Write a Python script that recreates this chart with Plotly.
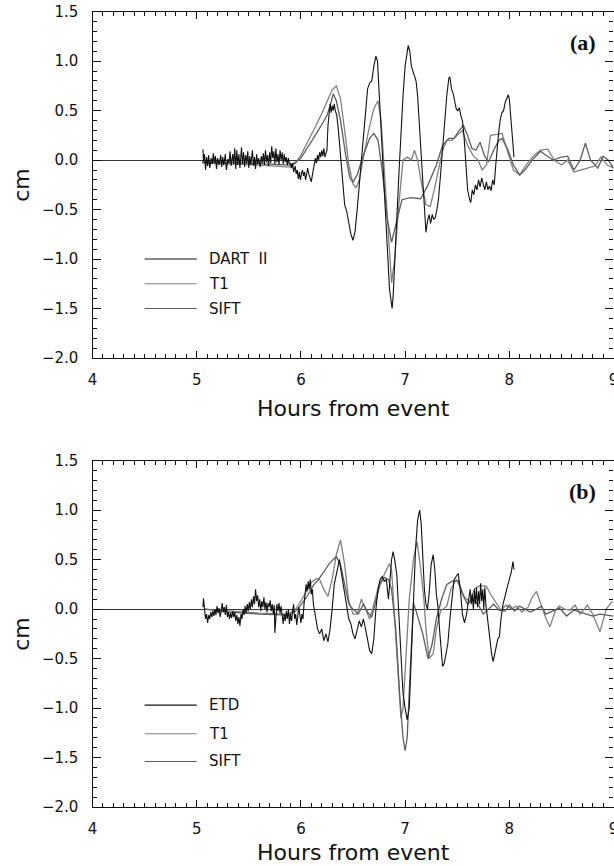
import plotly.graph_objects as go

# ---------------- Panel (a) ----------------
a_obs_h = [5.06, 5.065, 5.075, 5.085, 5.095, 5.105, 5.115, 5.125, 5.14, 5.15, 5.16, 5.17, 5.18, 5.19, 5.2, 5.215, 5.23, 5.24, 5.25, 5.26,
           5.275, 5.285, 5.3, 5.31, 5.32, 5.33, 5.345, 5.355, 5.365, 5.375, 5.385, 5.395, 5.405, 5.415, 5.43, 5.44, 5.45, 5.46, 5.47, 5.48,
           5.49, 5.5, 5.51, 5.52, 5.535, 5.545, 5.555, 5.565, 5.575, 5.585, 5.595, 5.61, 5.62, 5.63, 5.64, 5.65, 5.66, 5.67, 5.68, 5.69,
           5.7, 5.71, 5.72, 5.73, 5.74, 5.75, 5.76, 5.77, 5.78, 5.79, 5.8, 5.81, 5.82, 5.83, 5.84, 5.85, 5.86, 5.87, 5.88, 5.89,
           5.9, 5.91, 5.92, 5.93, 5.945, 5.955, 5.965, 5.975, 5.985, 5.995, 6.005, 6.015, 6.025, 6.035, 6.045, 6.055, 6.065, 6.075, 6.09, 6.1,
           6.11, 6.125, 6.14, 6.15, 6.16, 6.17, 6.18, 6.19, 6.2, 6.21, 6.22, 6.23, 6.24, 6.25, 6.26, 6.27, 6.28, 6.29, 6.3, 6.31,
           6.32, 6.33, 6.345, 6.36, 6.38, 6.4, 6.42, 6.44, 6.46, 6.48, 6.5, 6.52, 6.54, 6.56, 6.58, 6.6, 6.62, 6.64, 6.66, 6.68,
           6.7, 6.72, 6.735, 6.75, 6.77, 6.79, 6.81, 6.83, 6.85, 6.865, 6.875, 6.885, 6.9, 6.92, 6.94, 6.96, 6.98, 7.0, 7.02, 7.03,
           7.045, 7.06, 7.075, 7.09, 7.105, 7.12, 7.14, 7.16, 7.18, 7.2, 7.215, 7.23, 7.245, 7.26, 7.275, 7.29, 7.305, 7.32, 7.34, 7.36,
           7.38, 7.4, 7.42, 7.43, 7.445, 7.46, 7.475, 7.49, 7.505, 7.52, 7.535, 7.55, 7.565, 7.58, 7.6, 7.615, 7.63, 7.645, 7.66, 7.675,
           7.69, 7.705, 7.72, 7.735, 7.75, 7.765, 7.78, 7.795, 7.81, 7.825, 7.84, 7.855, 7.87, 7.885, 7.9, 7.915, 7.93, 7.945, 7.96, 7.975,
           7.99, 8.0, 8.015, 8.03, 8.045]
a_obs_v = [0.11, -0.02, 0.06, -0.10, 0.03, -0.06, 0.05, -0.08, 0.02, -0.04, 0.07, -0.03, 0.04, -0.09, 0.02, -0.05, 0.05, -0.07, 0.03, -0.05,
           0.06, -0.10, 0.01, -0.03, 0.09, -0.06, 0.06, -0.04, 0.12, -0.09, 0.10, -0.05, 0.06, -0.08, 0.13, -0.04, 0.08, -0.07, 0.05, -0.03,
           0.09, -0.08, 0.04, -0.05, 0.10, -0.06, 0.03, -0.09, 0.06, -0.04, 0.02, -0.07, 0.04, -0.03, 0.07, -0.05, 0.10, -0.02, 0.05, -0.06,
           0.08, -0.03, 0.14, 0.02, 0.09, -0.04, 0.12, -0.02, 0.06, -0.05, 0.10, 0.00, 0.08, -0.04, 0.06, -0.02, 0.03, -0.05, 0.02, -0.04,
           -0.03, -0.08, -0.03, -0.12, -0.06, -0.14, -0.10, -0.19, -0.12, -0.20, -0.14, -0.10, -0.16, -0.12, -0.20, -0.15, -0.08, -0.14, -0.20, -0.22,
           -0.15, -0.05, 0.02, -0.03, 0.05, 0.00, 0.08, 0.03, 0.10, 0.04, 0.12, 0.03, 0.06, 0.10, 0.35, 0.50, 0.57, 0.48, 0.55, 0.50,
           0.57, 0.50, 0.45, 0.30, 0.05, -0.25, -0.45, -0.52, -0.65, -0.75, -0.81, -0.72, -0.50, -0.25, 0.05, 0.30, 0.55, 0.72, 0.78, 0.80,
           0.95, 1.05, 1.00, 0.70, 0.30, -0.10, -0.50, -0.95, -1.30, -1.42, -1.50, -1.38, -1.10, -0.60, -0.15, 0.30, 0.65, 0.95, 1.12, 1.16,
           1.10, 0.95, 0.90, 0.85, 0.80, 0.65, 0.30, -0.10, -0.50, -0.73, -0.62, -0.55, -0.64, -0.55, -0.60, -0.58, -0.50, -0.40, -0.15, 0.15,
           0.40, 0.65, 0.83, 0.84, 0.72, 0.68, 0.60, 0.52, 0.50, 0.53, 0.45, 0.40, 0.25, 0.00, -0.30, -0.38, -0.43, -0.30, -0.35, -0.25,
           -0.30, -0.20, -0.27, -0.18, -0.25, -0.30, -0.22, -0.30, -0.26, -0.31, -0.20, -0.25, -0.05, 0.15, 0.30, 0.42, 0.48, 0.50, 0.58, 0.62,
           0.66, 0.62, 0.45, 0.20, 0.03]

a_t1_h = [5.05, 5.3, 5.6, 5.9, 5.95, 6.0, 6.05, 6.1, 6.15, 6.2, 6.25, 6.3, 6.34, 6.38, 6.42, 6.46, 6.5, 6.53, 6.56, 6.6,
          6.65, 6.7, 6.74, 6.77, 6.8, 6.84, 6.87, 6.9, 6.94, 6.98, 7.02, 7.06, 7.09, 7.12, 7.16, 7.2, 7.24, 7.28, 7.32, 7.36,
          7.4, 7.45, 7.5, 7.55, 7.6, 7.65, 7.7, 7.74, 7.78, 7.82, 7.88, 7.93, 7.98, 8.04, 8.1, 8.16, 8.24, 8.3, 8.37, 8.43,
          8.5, 8.56, 8.62, 8.7, 8.75, 8.82, 8.88, 8.94, 9.0]
a_t1_v = [-0.03, -0.04, -0.05, -0.07, -0.03, 0.05, 0.15, 0.26, 0.36, 0.47, 0.60, 0.71, 0.75, 0.62, 0.30, -0.05, -0.24, -0.28, -0.20, 0.02,
          0.30, 0.52, 0.60, 0.40, -0.10, -0.85, -1.24, -1.00, -0.45, 0.00, 0.03, 0.00, 0.10, 0.00, -0.25, -0.45, -0.47, -0.30, -0.10, 0.10,
          0.20, 0.20, 0.25, 0.30, 0.15, 0.05, 0.00, -0.10, -0.05, 0.25, 0.26, 0.27, 0.10, -0.10, -0.15, -0.05, 0.05, 0.10, 0.11, 0.00,
          -0.05, 0.00, -0.12, -0.10, -0.08, -0.06, 0.03, -0.05, -0.08]

a_sift_h = [5.05, 5.5, 5.9, 5.95, 6.0, 6.05, 6.1, 6.15, 6.2, 6.25, 6.28, 6.31, 6.34, 6.38, 6.43, 6.47, 6.5, 6.54, 6.6, 6.66,
            6.7, 6.74, 6.78, 6.83, 6.87, 6.92, 6.97, 7.05, 7.15, 7.22, 7.3, 7.36, 7.42, 7.47, 7.52, 7.56, 7.6, 7.64, 7.68, 7.72,
            7.76, 7.8, 7.85, 7.9, 7.93, 7.98, 8.04, 8.1, 8.15, 8.22, 8.3, 8.35, 8.42, 8.5, 8.56, 8.62, 8.68, 8.73, 8.78, 8.85,
            8.9, 8.95, 9.0]
a_sift_v = [-0.02, -0.03, -0.05, -0.02, 0.02, 0.10, 0.18, 0.27, 0.36, 0.45, 0.55, 0.67, 0.60, 0.40, 0.05, -0.18, -0.22, -0.15, 0.05, 0.22,
            0.27, 0.20, -0.10, -0.60, -0.83, -0.60, -0.40, -0.38, -0.39, -0.25, -0.05, 0.15, 0.22, 0.22, 0.30, 0.35, 0.25, 0.12, 0.10, 0.18,
            0.05, -0.02, 0.10, 0.20, 0.22, 0.12, -0.05, -0.15, -0.10, 0.00, 0.09, 0.05, 0.00, 0.03, 0.04, -0.10, 0.00, 0.17, 0.00, -0.08,
            0.04, 0.00, -0.08]

# ---------------- Panel (b) ----------------
b_obs_h = [5.06, 5.065, 5.075, 5.085, 5.095, 5.105, 5.115, 5.125, 5.135, 5.145, 5.155, 5.165, 5.175, 5.185, 5.195, 5.205, 5.215, 5.225, 5.235, 5.245,
           5.255, 5.265, 5.275, 5.285, 5.295, 5.305, 5.315, 5.325, 5.335, 5.345, 5.355, 5.365, 5.375, 5.385, 5.395, 5.405, 5.415, 5.425, 5.435, 5.445,
           5.455, 5.465, 5.475, 5.485, 5.495, 5.505, 5.515, 5.525, 5.535, 5.545, 5.555, 5.565, 5.575, 5.585, 5.595, 5.605, 5.615, 5.625, 5.635, 5.645,
           5.655, 5.665, 5.675, 5.685, 5.695, 5.705, 5.715, 5.725, 5.735, 5.745, 5.75, 5.76, 5.77, 5.78, 5.79, 5.8, 5.81, 5.82, 5.83, 5.84,
           5.85, 5.86, 5.87, 5.88, 5.89, 5.9, 5.91, 5.92, 5.93, 5.94, 5.95, 5.96, 5.97, 5.98, 5.99, 6.0, 6.01, 6.02, 6.03, 6.04,
           6.05, 6.06, 6.07, 6.08, 6.09, 6.1, 6.11, 6.12, 6.14, 6.16, 6.18, 6.2, 6.22, 6.24, 6.26, 6.28, 6.3, 6.32, 6.34, 6.36,
           6.37, 6.38, 6.4, 6.42, 6.44, 6.46, 6.48, 6.5, 6.52, 6.54, 6.56, 6.58, 6.6, 6.62, 6.64, 6.66, 6.68, 6.7, 6.72, 6.74,
           6.76, 6.78, 6.8, 6.82, 6.84, 6.86, 6.87, 6.885, 6.9, 6.92, 6.94, 6.96, 6.98, 7.0, 7.02, 7.04, 7.06, 7.08, 7.1, 7.12,
           7.14, 7.155, 7.17, 7.185, 7.2, 7.215, 7.23, 7.25, 7.27, 7.285, 7.3, 7.315, 7.33, 7.345, 7.36, 7.375, 7.39, 7.41, 7.43, 7.45,
           7.47, 7.49, 7.51, 7.53, 7.55, 7.57, 7.59, 7.61, 7.625, 7.635, 7.645, 7.655, 7.665, 7.675, 7.685, 7.695, 7.705, 7.715, 7.725, 7.735,
           7.745, 7.755, 7.765, 7.775, 7.79, 7.81, 7.83, 7.845, 7.86, 7.875, 7.89, 7.905, 7.92, 7.94, 7.96, 7.98, 8.0, 8.02, 8.035, 8.045]
b_obs_v = [0.02, 0.11, 0.00, -0.10, -0.05, -0.14, -0.06, -0.10, -0.03, -0.08, -0.02, -0.07, 0.00, -0.06, 0.03, -0.04, 0.01, -0.08, -0.02, 0.06,
           -0.03, 0.02, -0.06, 0.04, -0.08, -0.03, -0.10, -0.04, -0.09, -0.02, -0.08, -0.03, -0.12, -0.06, -0.15, -0.08, -0.17, -0.05, -0.10, 0.00,
           -0.06, 0.03, -0.04, 0.05, -0.02, 0.07, 0.00, 0.10, 0.02, 0.13, 0.05, 0.20, 0.08, 0.14, 0.02, 0.10, -0.02, 0.08, 0.02, 0.12,
           0.00, 0.07, -0.03, 0.06, 0.02, 0.09, -0.02, 0.05, -0.05, 0.04, -0.24, -0.05, 0.05, -0.02, 0.06, -0.04, 0.03, -0.06, -0.15, -0.05,
           -0.12, -0.02, -0.10, 0.00, -0.15, -0.05, -0.12, -0.03, 0.05, -0.10, -0.05, -0.16, -0.08, 0.02, -0.06, -0.14, -0.05, -0.10, 0.05, 0.15,
           0.25, 0.18, 0.28, 0.20, 0.30, 0.15, 0.20, 0.05, -0.10, -0.20, -0.25, -0.20, -0.32, -0.25, -0.33, -0.20, 0.00, 0.25, 0.35, 0.45,
           0.50, 0.42, 0.30, 0.15, 0.02, -0.10, -0.15, -0.25, -0.30, -0.20, -0.12, -0.18, -0.10, -0.20, -0.30, -0.42, -0.45, -0.30, 0.00, 0.20,
           0.30, 0.33, 0.28, 0.30, 0.10, 0.35, 0.50, 0.58, 0.50, 0.35, -0.10, -0.50, -0.85, -1.00, -1.12, -1.00, -0.50, 0.10, 0.60, 0.90,
           1.00, 0.85, 0.50, 0.20, 0.05, 0.00, 0.15, 0.45, 0.55, 0.40, 0.15, 0.03, -0.20, -0.38, -0.58, -0.55, -0.45, -0.35, -0.10, 0.10,
           0.30, 0.33, 0.36, 0.20, -0.05, -0.14, -0.05, 0.10, 0.20, 0.05, 0.15, 0.00, 0.20, 0.05, 0.22, 0.02, 0.18, 0.05, 0.26, 0.08,
           0.20, 0.00, 0.22, 0.05, -0.10, -0.30, -0.45, -0.53, -0.45, -0.40, -0.30, -0.28, -0.10, 0.05, 0.15, 0.22, 0.30, 0.38, 0.48, 0.40]

b_t1_h = [5.08, 5.3, 5.6, 5.88, 5.95, 6.0, 6.05, 6.1, 6.15, 6.18, 6.22, 6.26, 6.3, 6.34, 6.38, 6.42, 6.46, 6.5, 6.54, 6.58,
          6.62, 6.66, 6.7, 6.75, 6.8, 6.85, 6.87, 6.9, 6.93, 6.96, 6.98, 7.0, 7.04, 7.08, 7.115, 7.15, 7.18, 7.2, 7.23, 7.27,
          7.3, 7.34, 7.4, 7.44, 7.49, 7.53, 7.57, 7.62, 7.67, 7.72, 7.78, 7.82, 7.86, 7.92, 7.97, 8.02, 8.07, 8.12, 8.18, 8.22,
          8.26, 8.3, 8.35, 8.39, 8.44, 8.48, 8.53, 8.58, 8.63, 8.68, 8.75, 8.8, 8.87, 8.93, 8.99]
b_t1_v = [0.00, -0.02, -0.04, -0.05, 0.00, 0.08, 0.18, 0.27, 0.31, 0.30, 0.20, 0.13, 0.30, 0.55, 0.70, 0.45, 0.08, -0.05, -0.05, 0.10,
          0.00, -0.10, 0.05, 0.25, 0.35, 0.46, 0.40, -0.10, -0.70, -1.10, -1.00, -0.60, 0.10, 0.50, 0.68, 0.40, 0.10, -0.20, -0.50, -0.45,
          -0.20, -0.02, 0.03, 0.20, 0.30, 0.22, 0.12, 0.08, 0.21, 0.24, 0.23, 0.15, 0.09, -0.01, 0.04, 0.00, 0.03, -0.03, 0.02, 0.12,
          0.18, 0.05, -0.09, -0.18, -0.02, 0.03, 0.00, -0.01, 0.04, -0.05, 0.04, -0.05, -0.23, 0.00, 0.08]

b_sift_h = [5.08, 5.3, 5.6, 5.88, 5.95, 6.0, 6.06, 6.12, 6.17, 6.22, 6.28, 6.34, 6.38, 6.42, 6.46, 6.5, 6.55, 6.6, 6.64, 6.68,
            6.72, 6.76, 6.8, 6.84, 6.87, 6.91, 6.95, 6.98, 7.0, 7.02, 7.05, 7.08, 7.1, 7.13, 7.17, 7.22, 7.26, 7.3, 7.35, 7.4,
            7.45, 7.51, 7.55, 7.6, 7.65, 7.7, 7.75, 7.8, 7.85, 7.9, 7.96, 8.0, 8.05, 8.1, 8.15, 8.2, 8.26, 8.31, 8.35, 8.4,
            8.48, 8.55, 8.62, 8.68, 8.75, 8.8, 8.87, 8.93, 9.0]
b_sift_v = [0.00, -0.03, -0.05, -0.06, -0.02, 0.04, 0.13, 0.24, 0.30, 0.38, 0.47, 0.53, 0.45, 0.25, 0.05, 0.00, -0.05, 0.05, -0.03, -0.08,
            0.10, 0.25, 0.32, 0.30, 0.20, -0.20, -0.90, -1.30, -1.43, -1.30, -0.60, 0.06, 0.00, -0.10, -0.25, -0.50, -0.35, -0.10, 0.10, 0.25,
            0.28, 0.29, 0.15, 0.05, 0.10, 0.05, -0.05, 0.00, 0.05, -0.01, -0.02, 0.04, -0.02, 0.03, 0.00, -0.03, 0.00, 0.03, -0.05, -0.03,
            0.01, -0.07, -0.01, -0.03, -0.05, -0.07, -0.05, -0.06, -0.07]

x_ticks = [4, 5, 6, 7, 8, 9]
y_ticks = [-2.0, -1.5, -1.0, -0.5, 0.0, 0.5, 1.0, 1.5]
panel_tags = ["(a)", "(b)"]
legend_a = ["DART  II", "T1", "SIFT"]
legend_b = ["ETD", "T1", "SIFT"]
legend_a_y = [-1.0, -1.25, -1.5]
legend_b_y = [-0.97, -1.26, -1.54]

OBS_C = "#111111"
T1_C = "#808080"
SIFT_C = "#5e5e5e"

fig = go.Figure()
panels = [
    ("x", "y", a_obs_h, a_obs_v, a_t1_h, a_t1_v, a_sift_h, a_sift_v),
    ("x2", "y2", b_obs_h, b_obs_v, b_t1_h, b_t1_v, b_sift_h, b_sift_v),
]
for xa, ya, oh, ov, th, tv, sh, sv in panels:
    fig.add_trace(go.Scatter(x=th, y=tv, mode="lines", line=dict(color=T1_C, width=1.3),
                             xaxis=xa, yaxis=ya, showlegend=False, hoverinfo="skip"))
    fig.add_trace(go.Scatter(x=sh, y=sv, mode="lines", line=dict(color=SIFT_C, width=1.3),
                             xaxis=xa, yaxis=ya, showlegend=False, hoverinfo="skip"))
    fig.add_trace(go.Scatter(x=oh, y=ov, mode="lines", line=dict(color=OBS_C, width=1.1),
                             xaxis=xa, yaxis=ya, showlegend=False, hoverinfo="skip"))

W, H = 614, 866
x_dom = [92.5 / W, 613.5 / W]
y_dom_a = [1 - 358.0 / H, 1 - 11.7 / H]
y_dom_b = [1 - 807.0 / H, 1 - 460.7 / H]

tickfont = dict(family="DejaVu Sans", size=15, color="#111")
common_x = dict(range=[4, 9], tickvals=x_ticks, ticks="inside", ticklen=7, tickwidth=1, tickcolor="#111",
                minor=dict(dtick=0.1, ticks="inside", ticklen=4, tickcolor="#111", tickwidth=1, showgrid=False),
                showline=True, linecolor="#111", linewidth=1.2, mirror="allticks", showgrid=False, zeroline=False,
                tickfont=tickfont, ticklabelstandoff=8, ticklabeloverflow="allow", automargin=False, fixedrange=True)
common_y = dict(range=[-2, 1.5], tickvals=y_ticks, tickformat=".1f", ticks="inside", ticklen=8, tickwidth=1, tickcolor="#111",
                minor=dict(dtick=0.1, ticks="inside", ticklen=4, tickcolor="#111", tickwidth=1, showgrid=False),
                showline=True, linecolor="#111", linewidth=1.2, mirror="allticks", showgrid=False,
                zeroline=True, zerolinecolor="#333", zerolinewidth=1.4,
                tickfont=tickfont, ticklabelstandoff=10, ticklabeloverflow="allow", automargin=False, fixedrange=True)

fig.update_layout(
    width=W, height=H, margin=dict(l=0, r=0, t=0, b=0, autoexpand=False),
    paper_bgcolor="white", plot_bgcolor="white", showlegend=False,
    xaxis=dict(domain=x_dom, anchor="y", **common_x),
    yaxis=dict(domain=y_dom_a, anchor="x", **common_y),
    xaxis2=dict(domain=x_dom, anchor="y2", **common_x),
    yaxis2=dict(domain=y_dom_b, anchor="x2", **common_y),
)

annotations = []
shapes = []
title_font = dict(family="DejaVu Sans", size=22, color="#111")
for i, (xa, ya, labels, ly, top, bot, tgap) in enumerate([
        ("x", "y", legend_a, legend_a_y, 11.7, 358.0, 51),
        ("x2", "y2", legend_b, legend_b_y, 460.7, 807.0, 45)]):
    # axis titles
    annotations.append(dict(text="Hours from event", xref="paper", yref="paper",
                            x=353 / W, y=1 - (bot + tgap) / H, xanchor="center", yanchor="middle",
                            showarrow=False, font=title_font))
    annotations.append(dict(text="cm", xref="paper", yref="paper", textangle=-90,
                            x=22 / W, y=1 - ((top + bot) / 2) / H, xanchor="center", yanchor="middle",
                            showarrow=False, font=title_font))
    # panel tag
    annotations.append(dict(text="<b>" + panel_tags[i] + "</b>", xref="paper", yref="paper",
                            x=598 / W, y=1 - (top + 31) / H, xanchor="right", yanchor="middle",
                            showarrow=False, font=dict(family="Liberation Serif", size=22, color="#111")))
    # legend
    colors = [OBS_C, T1_C, SIFT_C]
    for lab, yy, c in zip(labels, ly, colors):
        shapes.append(dict(type="line", xref=xa, yref=ya, x0=4.5, x1=5.0, y0=yy, y1=yy,
                           line=dict(color=c, width=1.1)))
        annotations.append(dict(text=lab, xref=xa, yref=ya, x=5.1, y=yy, xanchor="left", yanchor="middle",
                                showarrow=False, font=dict(family="DejaVu Sans", size=15, color="#111")))

fig.update_layout(annotations=annotations, shapes=shapes)
fig.write_html("out.html")
